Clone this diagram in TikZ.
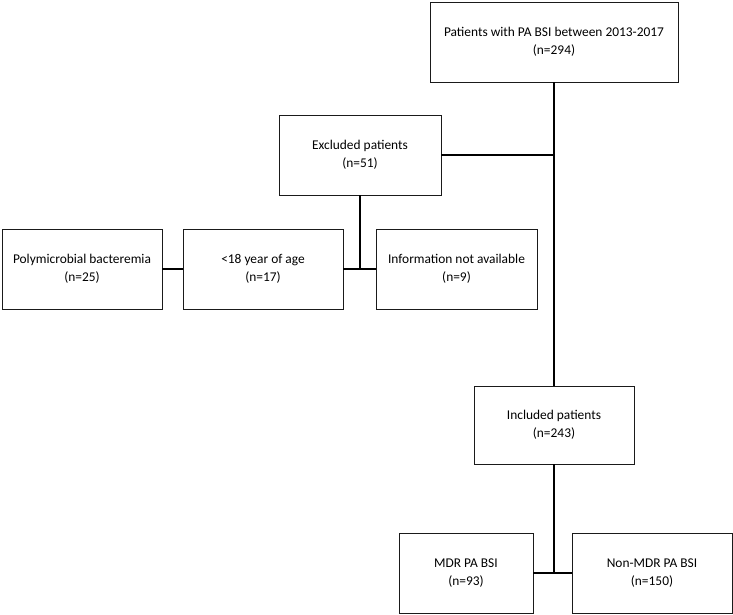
\documentclass[tikz,border=0pt]{standalone}
\usepackage{fontspec}
\setmainfont{Carlito}
\usetikzlibrary{positioning}
\definecolor{boxline}{HTML}{1A1A1A}
\definecolor{link}{HTML}{000000}
\tikzset{
  flowbox/.style={draw=boxline, line width=0.9pt, align=center, inner sep=2pt,
    minimum height=80pt, font=\fontsize{13.4}{18}\selectfont},
  linkline/.style={draw=link, line width=2.9pt}
}

\begin{document}
\begin{tikzpicture}[x=1pt, y=-1pt]

  % ---- Frame -----------------------------------------------------------------
  \useasboundingbox (0,0) rectangle (733,615);

  % ---- Boxes -----------------------------------------------------------------
  \node[flowbox, minimum width=248pt] (total) at (554, 42)
        {Patients with PA BSI between 2013-2017\\(n=294)};
  \node[flowbox, minimum width=162pt] (excl) at (360, 155)
        {Excluded patients\\(n=51)};
  \node[flowbox, minimum width=160pt] (poly) at (82, 269)
        {Polymicrobial bacteremia\\(n=25)};
  \node[flowbox, minimum width=160pt] (young) at (263, 269)
        {<18 year of age\\(n=17)};
  \node[flowbox, minimum width=161pt] (noinfo) at (456.5, 269)
        {Information not available\\(n=9)};
  \node[flowbox, minimum width=160pt, minimum height=78pt] (incl) at (554, 425)
        {Included patients\\(n=243)};
  \node[flowbox, minimum width=134pt] (mdr) at (466, 573)
        {MDR PA BSI\\(n=93)};
  \node[flowbox, minimum width=160pt] (nonmdr) at (652, 573)
        {Non-MDR PA BSI\\(n=150)};

  % ---- Junctions ---------------------------------------------------------------
  \coordinate (jexcl) at (total.south |- excl.east);
  \coordinate (jsub) at (excl.south |- young.east);
  \coordinate (jsplit) at (incl.south |- mdr.east);

  % ---- Connectors --------------------------------------------------------------
  \draw[linkline] (total.south) -- (incl.north);
  \draw[linkline] (excl.east) -- (jexcl);
  \draw[linkline] (excl.south) -- (jsub);
  \draw[linkline] (young.east) -- (noinfo.west);
  \draw[linkline] (poly.east) -- (young.west);
  \draw[linkline] (incl.south) -- (jsplit);
  \draw[linkline] (mdr.east) -- (nonmdr.west);

\end{tikzpicture}
\end{document}
